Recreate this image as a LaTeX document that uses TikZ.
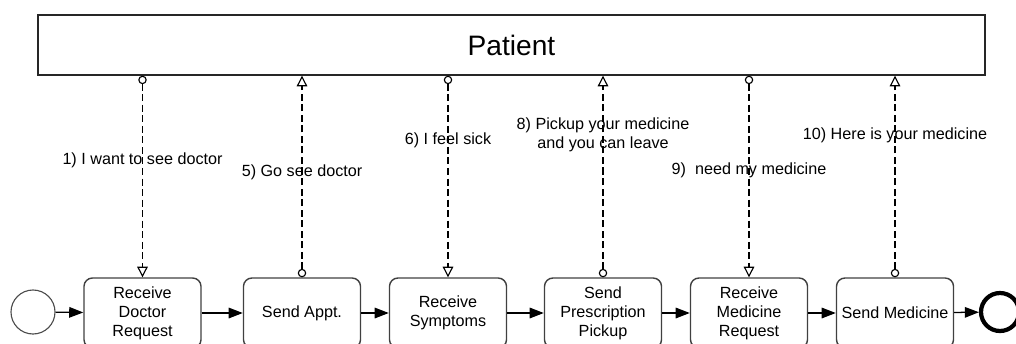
\documentclass[tikz,border=0pt]{standalone}
\usepackage{fontspec}
\setmainfont{Liberation Sans}
\usetikzlibrary{arrows.meta}

\begin{document}
\begin{tikzpicture}[
  x=0.025cm, y=-0.025cm,
  font=\fontsize{11.5}{13.5}\selectfont,
  task/.style={draw=black!75, line width=1pt, rounded corners=6pt,
    minimum width=2.925cm, minimum height=1.75cm, align=center},
  seqflow/.style={line width=0.9pt, -{Triangle[length=10pt,width=7.5pt]}},
  msgflow/.style={line width=1.2pt, dash pattern=on 5pt off 2.5pt,
    {Circle[open,length=6pt,width=6pt,line width=0.8pt]}-{Triangle[open,length=7.5pt,width=7.5pt,line width=0.8pt]}},
  msglabel/.style={align=center, inner sep=1pt}
]
  \useasboundingbox (0,0) rectangle (1016,343);
  \node[draw=black!85, line width=1pt, minimum width=23.675cm, minimum height=1.5cm,
    font=\fontsize{20}{24}\selectfont] (patient) at (511.5,45) {Patient};

  \node[draw=black!70, circle, minimum size=1.1cm, line width=0.8pt] (start) at (33,312) {};
  \node[task] (recvreq) at (142.5,313) {Receive\\Doctor\\Request};
  \node[task] (sendappt) at (302,313) {Send Appt.};
  \node[task] (recvsym) at (448,313) {Receive\\Symptoms};
  \node[task] (sendpick) at (603,313) {Send\\Prescription\\Pickup};
  \node[task] (recvmed) at (749,313) {Receive\\Medicine\\Request};
  \node[task] (sendmed) at (895,313) {Send Medicine};
  \node[draw, circle, minimum size=0.95cm, line width=3pt] (end) at (1000,312) {};

  \draw[seqflow] (start) -- (recvreq);
  \draw[seqflow] (recvreq) -- (sendappt);
  \draw[seqflow] (sendappt) -- (recvsym);
  \draw[seqflow] (recvsym) -- (sendpick);
  \draw[seqflow] (sendpick) -- (recvmed);
  \draw[seqflow] (recvmed) -- (sendmed);
  \draw[seqflow] (sendmed) -- (end);

  % message flows between the patient and the tasks
  \draw[msgflow] (recvreq.north |- patient.south) -- node[msglabel, pos=0.42] {1) I want to see doctor} (recvreq.north);
  \draw[msgflow] (sendappt.north) -- node[msglabel, pos=0.52] {5) Go see doctor} (sendappt.north |- patient.south);
  \draw[msgflow] (recvsym.north |- patient.south) -- node[msglabel, pos=0.32] {6) I feel sick} (recvsym.north);
  \draw[msgflow] (sendpick.north) -- node[msglabel, pos=0.706] {8) Pickup your medicine\\and you can leave} (sendpick.north |- patient.south);
  \draw[msgflow] (recvmed.north |- patient.south) -- node[msglabel, pos=0.47] {9)\ \ need my medicine} (recvmed.north);
  \draw[msgflow] (sendmed.north) -- node[msglabel, pos=0.706] {10) Here is your medicine} (sendmed.north |- patient.south);
\end{tikzpicture}
\end{document}
